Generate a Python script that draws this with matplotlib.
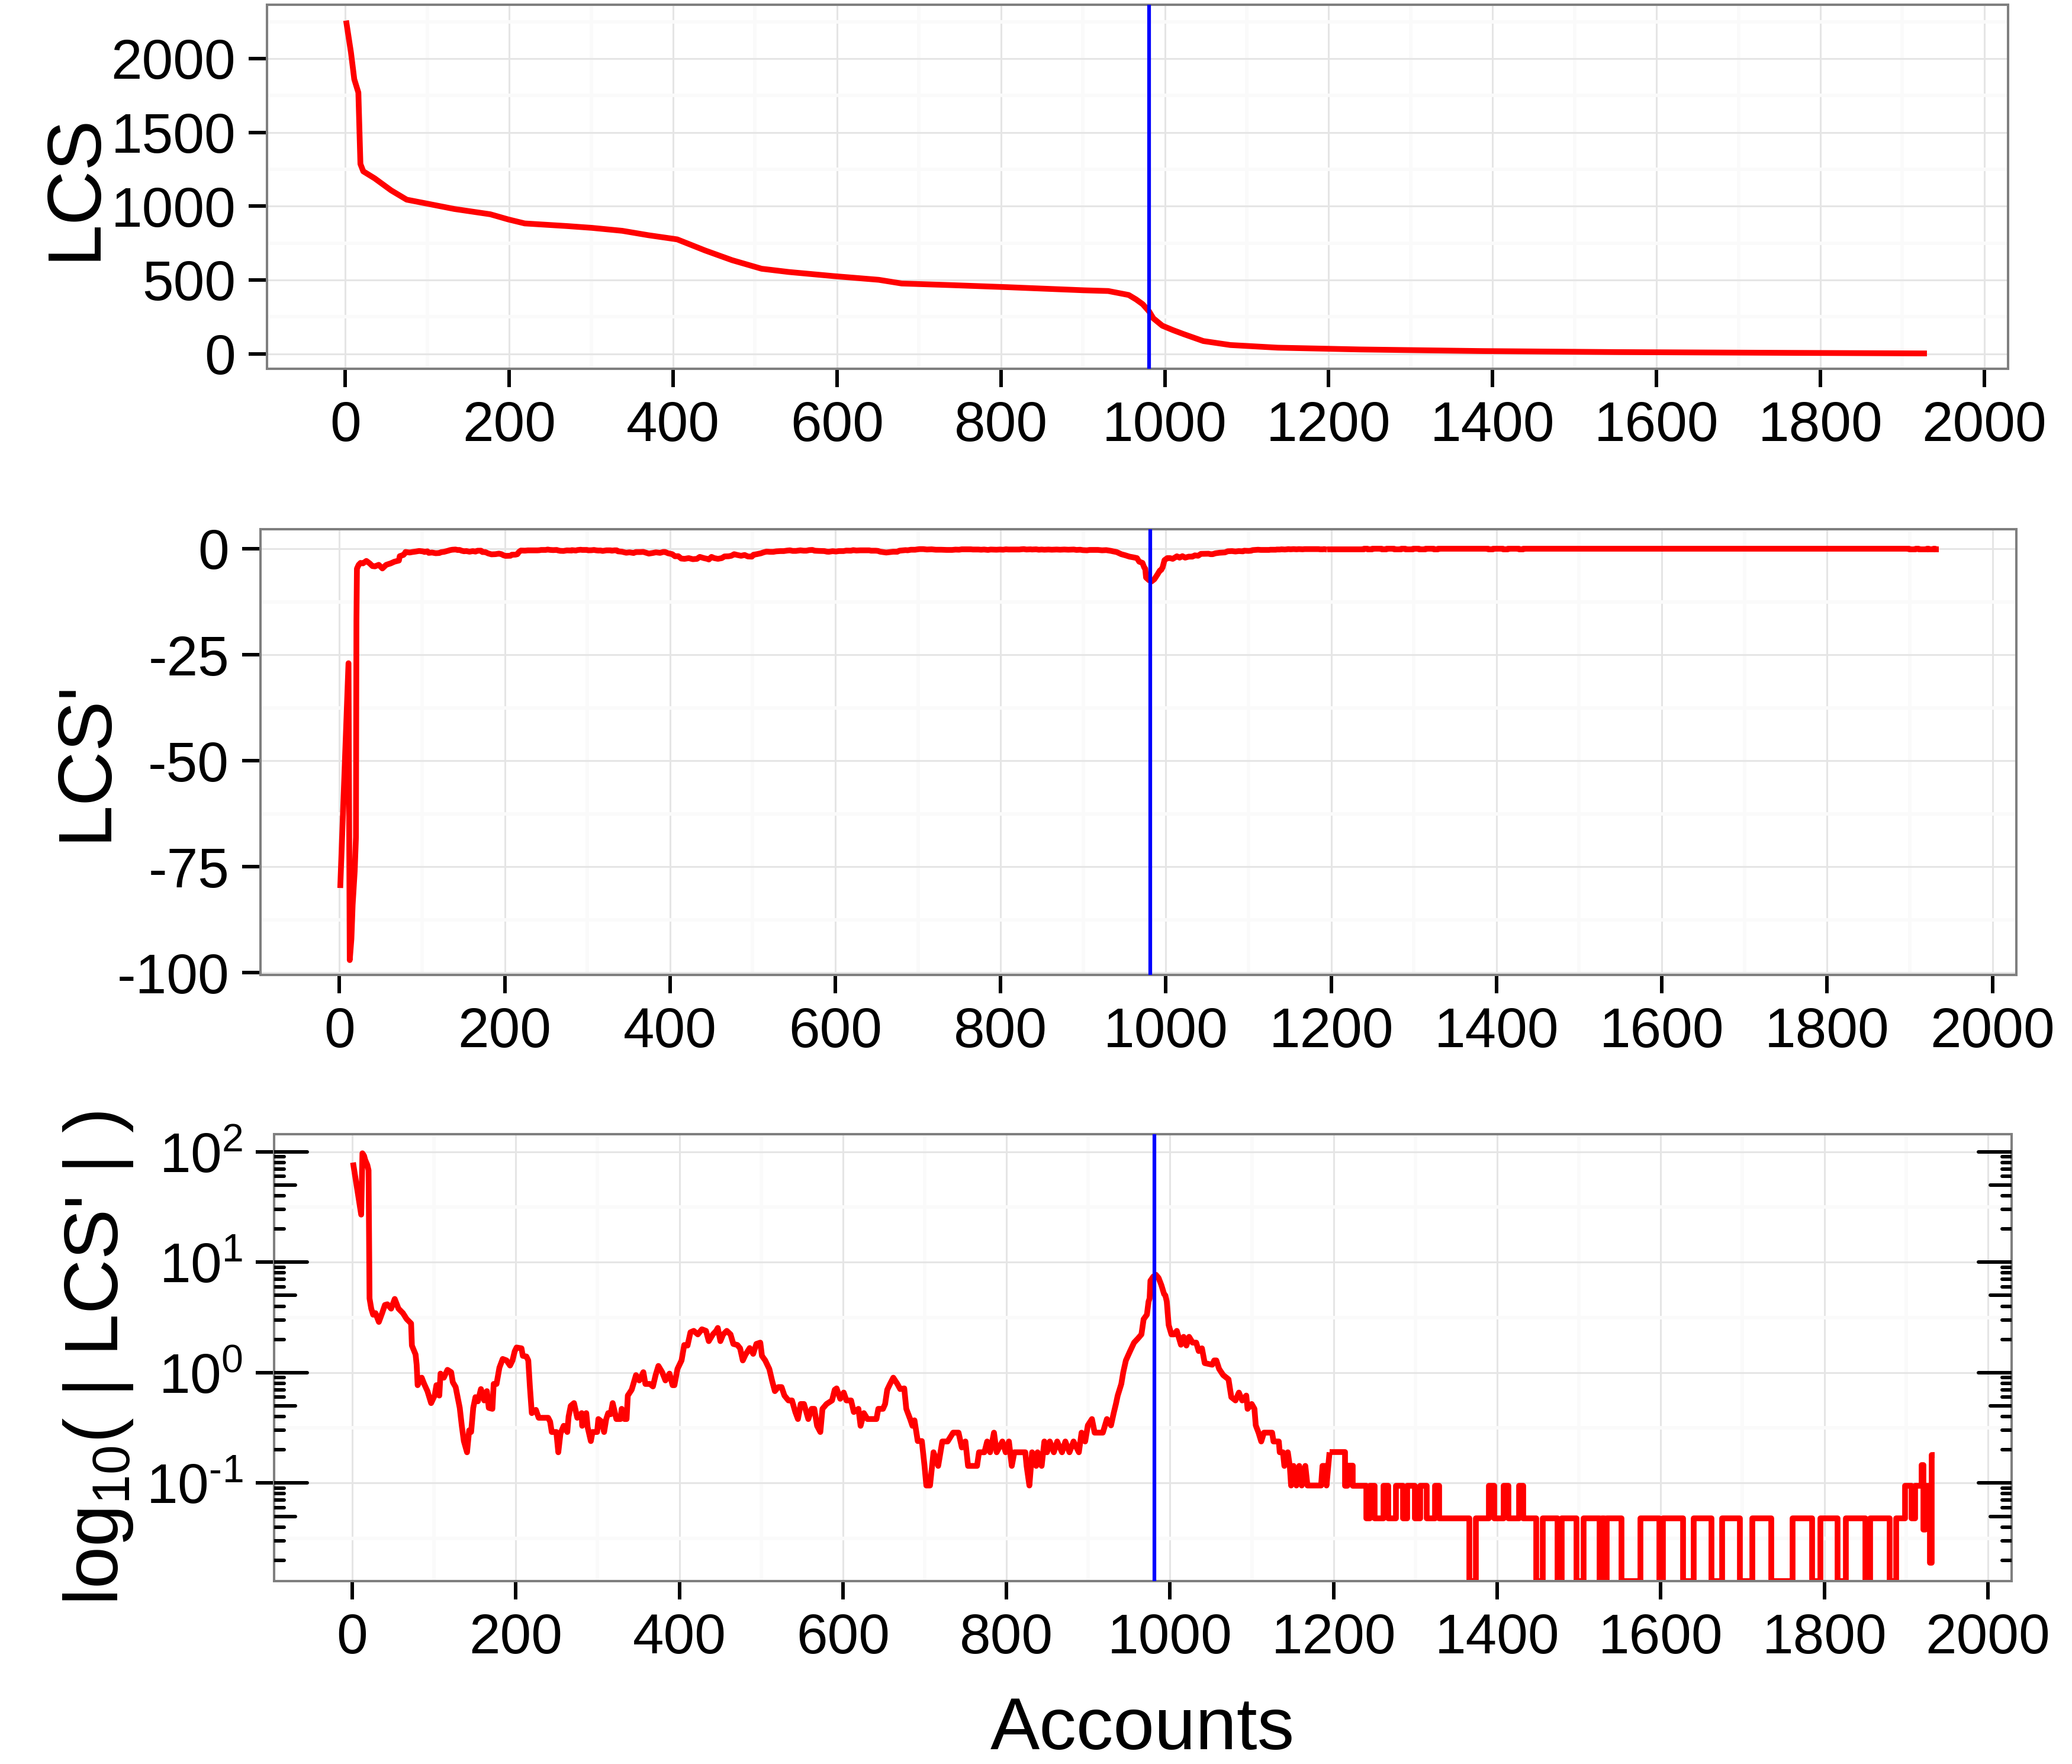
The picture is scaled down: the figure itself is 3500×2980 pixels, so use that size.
import numpy as np
import matplotlib
matplotlib.use("Agg")
import matplotlib.pyplot as plt
from matplotlib.ticker import NullFormatter

plt.rcParams['font.family'] = ['Liberation Sans', 'DejaVu Sans']
plt.rcParams['axes.unicode_minus'] = False
plt.rcParams['mathtext.fontset'] = 'custom'
plt.rcParams['mathtext.rm'] = 'Liberation Sans'
plt.rcParams['mathtext.it'] = 'Liberation Sans:italic'
plt.rcParams['mathtext.bf'] = 'Liberation Sans:bold'

# ---------------- data ----------------
# LCS curve (top panel)
lcs_x = [1, 7, 11, 16, 18.5, 22, 36, 56, 75, 100, 133, 177, 199, 219, 271, 301,
         338, 370, 405, 439, 472, 508, 541, 596, 651, 679, 739, 808, 901, 931,
         956, 965, 973, 981, 986, 997, 1010, 1023, 1047, 1080, 1138, 1238, 1387,
         1553, 1719, 1930]
lcs_y = [2258, 2040, 1860, 1770, 1286, 1236, 1188, 1107, 1044, 1017, 981, 945,
         910, 883, 865, 853, 833, 803, 775, 700, 634, 576, 554, 526, 501, 476,
         465, 451, 430, 425, 398, 368, 336, 286, 240, 190, 160, 133, 86, 59, 41,
         29, 18, 11, 7, 2]

# |LCS'| (derivative, sign dropped), (account, value)
abs_lcs_prime_a = [
    (1, 80), (11, 27), (12.5, 97), (14.5, 92), (16, 84), (18.5, 76), (20, 68),
    (20.6, 17), (21.2, 4.7), (23.3, 3.8), (25.6, 3.35), (28.5, 3.46), (32.6, 2.88),
    (36.6, 3.46), (40, 4.1), (43, 4.16), (47.6, 3.8), (52, 4.65), (56.6, 3.8),
    (62, 3.46), (66.6, 3.06), (72, 2.79), (73, 1.76), (77.5, 1.46), (78.8, 1.18),
    (80, 0.77), (85, 0.9), (88, 0.79), (92, 0.68), (96.5, 0.53), (100.8, 0.62),
    (103, 0.77), (106.5, 0.62), (108, 0.98), (112, 0.9), (116.5, 1.06), (121, 1.01),
    (123, 0.82), (126.5, 0.74), (131.5, 0.48), (134, 0.33), (136.5, 0.24),
    (140.4, 0.19), (143, 0.30), (145.4, 0.29), (148, 0.48), (150.7, 0.60),
    (153.7, 0.55), (157.4, 0.71), (161.4, 0.56), (164.7, 0.68), (167, 0.48),
    (171.4, 0.47), (173, 0.79), (176.5, 0.79), (180, 1.11), (184, 1.33),
    (188.7, 1.29), (193, 1.16), (196, 1.29), (198.7, 1.56), (201, 1.69),
    (207, 1.66), (208.6, 1.42), (213, 1.40), (215.3, 1.29), (217.3, 0.74),
    (219.6, 0.43), (224.6, 0.46), (228, 0.39), (239.6, 0.39), (242, 0.36),
    (244, 0.29), (249.6, 0.29), (252, 0.19), (254.6, 0.28), (258.6, 0.33),
    (263, 0.29), (264.6, 0.40), (267.2, 0.50), (271.2, 0.53), (275.2, 0.39),
    (280.6, 0.43), (281.2, 0.33), (286.2, 0.43), (287.9, 0.32), (291.8, 0.24),
    (293.8, 0.29), (299.5, 0.29), (301, 0.38), (305, 0.36), (308, 0.29),
    (310.6, 0.38), (313, 0.43), (316, 0.42), (318.5, 0.53), (323, 0.38),
    (328, 0.38), (329.5, 0.47), (333, 0.38), (335.5, 0.38), (337, 0.62),
    (341.7, 0.70), (347, 0.95), (351, 0.85), (356, 1.01), (358.5, 0.79),
    (364, 0.79), (367.7, 0.75), (371, 0.95), (374.4, 1.15), (379, 1.01),
    (383, 0.85), (388, 0.98), (391.7, 0.77), (394, 0.77), (397.7, 1.08),
    (402.7, 1.29), (406, 1.78), (410, 1.76), (413.6, 2.32), (417.6, 2.39),
    (422.6, 2.22), (427.6, 2.47), (432.6, 2.39), (436, 1.93), (441, 2.22),
    (445, 2.39), (447, 2.54), (450.2, 1.93), (453.6, 2.22), (458, 2.39),
    (462.6, 2.22), (466, 1.82), (471, 1.78), (474.3, 1.66), (477.6, 1.29),
    (481, 1.46), (486, 1.67), (490.3, 1.48), (494.2, 1.82), (499, 1.87),
    (501, 1.42), (505, 1.29), (510, 1.08)]

abs_lcs_prime_b = [
    (513.5, 0.84), (516.8, 0.68), (521, 0.74), (525, 0.74), (528.5, 0.62),
    (533.4, 0.56), (537.7, 0.56), (541.8, 0.44), (545, 0.38), (548.4, 0.52),
    (552.4, 0.52), (557.7, 0.38), (561.7, 0.47), (565, 0.47), (568.4, 0.33),
    (572.4, 0.29), (575, 0.47), (580, 0.52), (586.7, 0.56), (590, 0.70),
    (592.3, 0.72), (596.7, 0.58), (601, 0.66), (604.3, 0.56), (610, 0.56),
    (613.3, 0.44), (619, 0.47), (621.6, 0.33), (625.6, 0.43), (630, 0.38),
    (641, 0.38), (643.3, 0.47), (649, 0.47), (651.6, 0.52), (654.2, 0.70),
    (657.6, 0.79), (661.6, 0.90), (666.6, 0.79), (670, 0.71), (675, 0.72),
    (677.5, 0.47), (682.2, 0.38), (685, 0.33), (687.5, 0.37), (691.5, 0.24),
    (696.5, 0.24), (699.8, 0.143), (702, 0.095), (706.5, 0.095), (710.8, 0.19),
    (716.5, 0.143), (721.5, 0.238), (728, 0.238), (734.8, 0.286), (741.4, 0.286),
    (745.4, 0.21), (749.8, 0.238), (753, 0.143), (764, 0.143), (766.4, 0.19),
    (773, 0.19), (776.4, 0.238), (780, 0.19), (784.7, 0.286), (788, 0.19),
    (795, 0.238), (799, 0.19), (803, 0.238), (806.5, 0.143), (809.6, 0.19),
    (823, 0.19), (824.6, 0.143), (828, 0.095), (831.3, 0.19), (836.3, 0.143),
    (838, 0.19), (843, 0.143), (846.3, 0.238), (849.6, 0.19), (853, 0.238),
    (857.9, 0.19), (862, 0.238), (867.9, 0.19), (872, 0.238), (877, 0.19),
    (882, 0.238), (888.5, 0.19), (891.8, 0.286), (896.2, 0.238), (899.5, 0.333),
    (904.5, 0.38), (907.8, 0.286), (917.8, 0.286), (922.8, 0.38), (927.8, 0.333),
    (931.1, 0.43), (933.8, 0.52), (936, 0.62), (940.4, 0.79), (942.8, 1.01),
    (946, 1.29), (951, 1.56), (956, 1.87), (961, 2.05), (965, 2.22),
    (967.7, 3.05), (971.7, 3.35), (973.7, 4.4), (975, 4.7), (976, 6.8),
    (979.4, 7.4), (982.7, 7.7), (986, 7.2), (989.4, 6.2), (992.7, 5.15),
    (994.3, 5.0), (996, 4.4), (998.3, 2.7), (1001.7, 2.22)]

abs_lcs_prime_c = [
    (1005, 2.22), (1008.3, 2.39), (1013.3, 1.79), (1016.6, 2.11), (1020, 1.76),
    (1023.3, 2.11), (1027.6, 1.87), (1032, 1.87), (1035, 1.57), (1039, 1.66),
    (1042.4, 1.22), (1051.6, 1.18), (1054, 1.29), (1056.6, 1.29), (1060, 1.08),
    (1065, 0.95), (1071.5, 0.87), (1074.9, 0.60), (1080, 0.56), (1084.2, 0.66),
    (1088.2, 0.56), (1093.2, 0.62), (1094.8, 0.47), (1099.8, 0.52), (1103.2, 0.47),
    (1104.8, 0.333), (1108.2, 0.286), (1111.5, 0.238), (1114.8, 0.286),
    (1124.8, 0.286), (1126.5, 0.238), (1133, 0.238), (1134.1, 0.19), (1138, 0.19),
    (1139.8, 0.143), (1144, 0.19), (1146.4, 0.143), (1148, 0.095), (1151, 0.143),
    (1154.5, 0.095), (1158, 0.143), (1161, 0.095), (1165.4, 0.143), (1168, 0.095),
    (1184.7, 0.095), (1186.4, 0.143), (1190, 0.143), (1191.3, 0.095), (1195, 0.19)]

# tail: value holds from this account until the next one
abs_lcs_prime_tail = [
    (1195, 0.19), (1214, 0.095), (1217, 0.143), (1223, 0.095), (1240, 0.048),
    (1244, 0.095), (1250, 0.048), (1261, 0.095), (1267, 0.048), (1276, 0.095),
    (1285, 0.048), (1290, 0.095), (1299, 0.048), (1306, 0.095), (1314, 0.048),
    (1324, 0.095), (1329, 0.048), (1366, 0), (1374, 0.048), (1390, 0.095),
    (1396, 0.048), (1408, 0.095), (1414, 0.048), (1427, 0.095), (1432, 0.048),
    (1448, 0), (1456, 0.048), (1474, 0), (1479, 0.048), (1497, 0), (1506, 0.048),
    (1525, 0), (1528, 0.048), (1531, 0), (1534, 0.048), (1552, 0), (1575, 0.048),
    (1598, 0), (1603, 0.048), (1627, 0), (1640, 0.048), (1662, 0), (1675, 0.048),
    (1697, 0), (1712, 0.048), (1735, 0), (1761, 0.048), (1785, 0), (1795, 0.048),
    (1816, 0), (1826, 0.048), (1850, 0), (1856, 0.048), (1880, 0), (1888, 0.048),
    (1899, 0.095), (1907, 0.048), (1911, 0.095), (1919, 0.146), (1921, 0.038),
    (1923, 0.095), (1929, 0.019), (1931, 0.18), (1935, 0.18)]

cut_account = 981

x_ticks = list(range(0, 2001, 200))
x_minor = list(range(100, 2000, 200))
lcs_ticks = [0, 500, 1000, 1500, 2000]
lcs_minor = [250, 750, 1250, 1750, 2250]
d_ticks = [-100, -75, -50, -25, 0]
d_minor = [-87.5, -62.5, -37.5, -12.5]
log_ticks = [0.1, 1, 10, 100]
log_labels = ['$\\mathdefault{10^{\u20101}}$', '$\\mathdefault{10^{0}}$',
              '$\\mathdefault{10^{1}}$', '$\\mathdefault{10^{2}}$']
log_minor = [10 ** -1.5, 10 ** -0.5, 10 ** 0.5, 10 ** 1.5]

# ---------------- figure ----------------
W, H = 3500, 2980
fig = plt.figure(figsize=(W / 100, H / 100), dpi=100)
fig.patch.set_facecolor('white')

RED = '#FF0000'
BLUE = '#0000FF'
line_kw = dict(color=RED, linewidth=7, solid_joinstyle='round', solid_capstyle='butt')


def panel(l, t, r, b):
    ax = fig.add_axes([l / W, 1 - b / H, (r - l) / W, (b - t) / H])
    for s in ax.spines.values():
        s.set_color('#7F7F7F')
        s.set_linewidth(2.9)
    ax.set_axisbelow(True)
    ax.set_xlim(-95.5, 2029)
    ax.set_xticks(x_ticks)
    ax.set_xticks(x_minor, minor=True)
    ax.grid(which='major', color='#E5E5E5', linewidth=2.2)
    ax.grid(which='minor', color='#FAFAFA', linewidth=4.3)
    ax.tick_params(which='major', length=22, width=4.3, colors='black',
                   labelsize=68, pad=16)
    ax.tick_params(which='minor', length=0)
    return ax


main_pts = abs_lcs_prime_a + abs_lcs_prime_b + abs_lcs_prime_c
mx = np.array([p[0] for p in main_pts])
my = np.array([p[1] for p in main_pts])
tx = np.array([p[0] for p in abs_lcs_prime_tail])
ty = np.array([p[1] for p in abs_lcs_prime_tail])

# --- top: LCS
ax1 = panel(451, 8, 3392, 623)
ax1.plot(lcs_x, lcs_y, **line_kw)
ax1.axvline(cut_account, color=BLUE, linewidth=4.5, zorder=3)
ax1.set_ylim(-102, 2365)
ax1.set_yticks(lcs_ticks)
ax1.set_yticks(lcs_minor, minor=True)

# --- middle: LCS'
ax2 = panel(440, 894, 3406, 1647)
ax2.plot(mx, -my, **line_kw)
ax2.plot(tx, -ty, drawstyle='steps-post', **line_kw)
ax2.axvline(cut_account, color=BLUE, linewidth=4.5, zorder=3)
ax2.set_ylim(-100.5, 4.6)
ax2.set_yticks(d_ticks)
ax2.set_yticks(d_minor, minor=True)

# --- bottom: log10 |LCS'|
ax3 = panel(463, 1916, 3398, 2671)
ax3.set_yscale('log')
ylo, yhi = 10 ** -1.888, 10 ** 2.16
ax3.set_ylim(ylo, yhi)
# zeros sit on the lower panel edge, like -Inf in ggplot
ax3.plot(mx, np.where(my > 0, my, ylo), **line_kw)
ax3.plot(tx, np.where(ty > 0, ty, ylo), drawstyle='steps-post', **line_kw)
ax3.axvline(cut_account, color=BLUE, linewidth=4.5, zorder=3)
ax3.set_yticks(log_ticks)
ax3.set_yticklabels(log_labels)
ax3.set_yticks(log_minor, minor=True)
ax3.yaxis.set_minor_formatter(NullFormatter())
ax3.tick_params(which='minor', length=0)

# log ticks inside, both sides
trans = ax3.get_yaxis_transform()
pw = 3398 - 463
for k in range(-2, 3):
    for m in range(1, 10):
        v = m * 10.0 ** k
        if v < ylo or v > yhi:
            continue
        L = (56 if m == 1 else 36 if m == 5 else 16.5) / pw
        for xs in ([0, L], [1 - L, 1]):
            ax3.plot(xs, [v, v], transform=trans, color='black', linewidth=4.3,
                     solid_capstyle='round', zorder=2.6)

# axis titles
fig.text(160 / W, 1 - 315.5 / H, 'LCS', rotation=90, rotation_mode='anchor',
         ha='center', va='baseline', fontsize=92)
fig.text(178 / W, 1 - 1285 / H, "LCS'", rotation=90, rotation_mode='anchor',
         ha='center', va='baseline', fontsize=92)
fig.text(199 / W, 1 - 2295 / H, "log$_{\\mathdefault{10}}$( | LCS' | )", rotation=90,
         rotation_mode='anchor', ha='center', va='baseline', fontsize=92)
fig.text(1930 / W, 1 - 2955 / H, 'Accounts', ha='center', va='baseline', fontsize=90)

fig.savefig('out.png', dpi=100, facecolor='white')
